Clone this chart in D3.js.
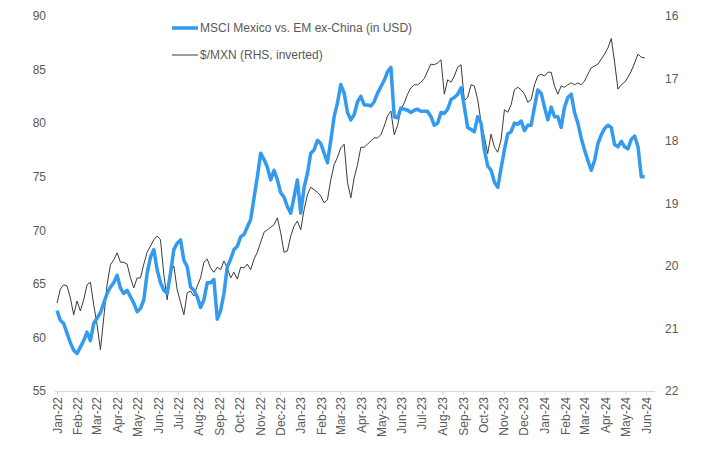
<!DOCTYPE html>
<html><head><meta charset="utf-8">
<script src="https://cdn.jsdelivr.net/npm/d3@7"></script>
<style>
html,body{margin:0;padding:0;background:#fff;}
svg{display:block;font-family:"Liberation Sans",Arial,sans-serif;}
</style></head>
<body><svg id="c" width="727" height="454"></svg>
<script>
const dates = ("2022-01-01 2022-01-06 2022-01-11 2022-01-16 2022-01-21 2022-01-26 2022-01-31 2022-02-05 2022-02-10 2022-02-15 2022-02-20 2022-02-25 2022-03-02 2022-03-07 2022-03-12 2022-03-17 2022-03-22 2022-03-27 2022-04-01 2022-04-06 2022-04-11 2022-04-16 2022-04-21 2022-04-26 2022-05-01 2022-05-06 2022-05-11 2022-05-16 2022-05-21 2022-05-26 2022-05-31 2022-06-05 2022-06-10 2022-06-15 2022-06-20 2022-06-25 2022-06-30 2022-07-05 2022-07-10 2022-07-15 2022-07-20 2022-07-25 2022-07-30 2022-08-04 2022-08-09 2022-08-14 2022-08-19 2022-08-24 2022-08-29 2022-09-03 2022-09-08 2022-09-13 2022-09-18 2022-09-23 2022-09-28 2022-10-03 2022-10-08 2022-10-13 2022-10-18 2022-10-23 2022-10-28 2022-11-02 2022-11-07 2022-11-12 2022-11-17 2022-11-22 2022-11-27 2022-12-02 2022-12-07 2022-12-12 2022-12-17 2022-12-22 2022-12-27 " +
"2023-01-01 2023-01-06 2023-01-11 2023-01-16 2023-01-21 2023-01-26 2023-01-31 2023-02-05 2023-02-10 2023-02-15 2023-02-20 2023-02-25 2023-03-02 2023-03-07 2023-03-12 2023-03-17 2023-03-22 2023-03-27 2023-04-01 2023-04-06 2023-04-11 2023-04-16 2023-04-21 2023-04-26 2023-05-01 2023-05-06 2023-05-11 2023-05-16 2023-05-21 2023-05-26 2023-05-31 2023-06-05 2023-06-10 2023-06-15 2023-06-20 2023-06-25 2023-06-30 2023-07-05 2023-07-10 2023-07-15 2023-07-20 2023-07-25 2023-07-30 2023-08-04 2023-08-09 2023-08-14 2023-08-19 2023-08-24 2023-08-29 2023-09-03 2023-09-08 2023-09-13 2023-09-18 2023-09-23 2023-09-28 2023-10-03 2023-10-08 2023-10-13 2023-10-18 2023-10-23 2023-10-28 2023-11-02 2023-11-07 2023-11-12 2023-11-17 2023-11-22 2023-11-27 2023-12-02 2023-12-07 2023-12-12 2023-12-17 2023-12-22 2023-12-27 " +
"2024-01-01 2024-01-06 2024-01-11 2024-01-16 2024-01-21 2024-01-26 2024-01-31 2024-02-05 2024-02-10 2024-02-15 2024-02-20 2024-02-25 2024-03-01 2024-03-06 2024-03-11 2024-03-16 2024-03-21 2024-03-26 2024-03-31 2024-04-05 2024-04-10 2024-04-15 2024-04-20 2024-04-25 2024-04-30 2024-05-05 2024-05-10 2024-05-15 2024-05-20 2024-05-25 2024-05-30").split(" ");

const msciMexicoVsEM = [62.5,61.6,61.3,60.4,59.5,58.8,58.5,59.1,59.7,60.5,
 59.7,61.3,61.8,62.3,63.2,64.1,64.7,65.1,65.8,64.6,
 64.1,64.4,63.8,63.2,62.4,62.7,63.5,66.0,67.5,68.2,
 66.3,65.1,64.4,64.1,66.0,68.2,68.8,69.1,67.2,66.6,
 64.7,64.4,63.8,62.8,63.5,65.1,65.1,65.4,61.7,62.5,
 64.1,66.6,67.3,68.2,68.5,69.4,69.6,70.3,71.0,73.0,
 75.0,77.2,76.6,75.9,74.7,75.6,74.7,73.5,73.1,72.2,
 71.6,73.1,74.7,71.6,74.0,75.3,77.2,77.5,78.4,78.1,
 77.2,76.3,78.4,80.6,81.9,83.6,82.8,81.0,80.3,80.8,
 82.0,82.5,81.7,81.7,81.6,82.0,82.8,83.4,84.0,84.8,
 85.2,80.6,80.5,81.4,81.3,81.2,81.0,81.2,81.3,81.1,
 81.1,81.1,80.6,79.8,80.0,81.0,80.9,81.3,82.2,82.4,
 82.7,83.3,81.5,79.6,79.4,79.2,80.6,80.0,77.5,76.0,
 75.6,74.5,74.0,75.8,77.5,79.0,79.2,80.0,79.9,80.2,
 79.3,79.8,79.8,81.5,83.1,82.8,81.5,80.3,81.5,80.6,
 80.6,79.6,81.5,82.4,82.7,81.0,80.0,78.6,77.5,76.5,
 75.6,76.5,78.1,78.9,79.5,79.8,79.6,78.0,77.8,78.3,
 77.8,77.6,78.5,78.8,77.8,75.0,75.0];

const usdMxn = [20.59,20.37,20.30,20.32,20.51,20.78,20.56,20.72,20.54,20.30,
 20.26,20.62,20.94,21.34,20.83,20.30,19.98,19.90,19.79,19.94,
 19.94,19.97,20.19,20.35,20.19,20.19,19.97,19.78,19.68,19.58,
 19.52,19.58,20.14,20.54,20.10,20.00,20.38,20.58,20.78,20.43,
 20.40,20.48,20.32,20.19,19.94,19.89,20.03,20.10,20.02,20.06,
 19.92,20.03,20.19,20.10,20.21,20.02,20.03,19.97,20.06,19.89,
 19.78,19.62,19.46,19.42,19.38,19.34,19.23,19.47,19.78,19.76,
 19.52,19.36,19.28,19.42,19.10,18.86,18.74,18.78,18.82,18.88,
 18.99,18.94,18.62,18.38,18.26,18.11,18.05,18.66,18.91,18.59,
 18.38,18.10,18.10,18.05,18.00,17.95,17.95,17.90,17.76,17.60,
 17.52,17.90,17.75,17.50,17.39,17.25,17.15,17.10,17.10,17.06,
 17.00,16.88,16.77,16.78,16.75,16.70,17.25,17.02,17.06,16.96,
 16.82,16.78,17.35,17.30,17.10,17.12,17.34,17.70,17.94,18.20,
 17.89,18.10,18.18,17.98,17.50,17.54,17.42,17.18,17.14,17.18,
 17.25,17.38,17.34,17.10,16.96,16.93,16.96,16.90,16.90,17.12,
 17.25,17.12,17.14,17.10,17.07,17.10,17.07,17.10,17.04,16.93,
 16.83,16.80,16.77,16.69,16.61,16.51,16.36,16.74,17.17,17.10,
 17.06,16.98,16.88,16.75,16.61,16.66,16.67];

const leftTicks = [55,60,65,70,75,80,85,90];
const rightTicks = [16,17,18,19,20,21,22];
const seriesNames = ["MSCI Mexico vs. EM ex-China (in USD)", "$/MXN (RHS, inverted)"];

const parse = d3.timeParse("%Y-%m-%d");
const svg = d3.select("#c");
const textColor = "#595959";

const x = d3.scaleTime().domain([parse("2022-01-01"), parse("2024-06-01")]).range([57, 646]);
const yL = d3.scaleLinear().domain([55, 90]).range([391, 16]);
const yR = d3.scaleLinear().domain([16, 22]).range([16, 391]);

// x axis
const monthTicks = d3.timeMonth.range(parse("2022-01-01"), parse("2024-06-02"));
const xAxis = d3.axisBottom(x).tickValues(monthTicks).tickFormat(d3.timeFormat("%b-%y")).tickSize(4).tickSizeOuter(0);
const gx = svg.append("g").attr("transform", "translate(0,391)").call(xAxis);
gx.select(".domain").remove();
gx.append("line").attr("x1", 55).attr("x2", 655).attr("y1", 0.5).attr("y2", 0.5).attr("stroke", "#d9d9d9");
gx.selectAll(".tick line").attr("stroke", "#d9d9d9");
gx.selectAll(".tick text")
  .attr("fill", textColor).attr("font-size", 12)
  .attr("transform", "rotate(-90)")
  .attr("text-anchor", "end")
  .attr("dy", "0.35em").attr("dx", 0)
  .attr("x", -6).attr("y", 0);

// left axis
const gl = svg.append("g").attr("transform", "translate(46,0)")
  .call(d3.axisLeft(yL).tickValues(leftTicks).tickFormat(d3.format("d")).tickSize(0).tickPadding(0));
gl.select(".domain").remove();
gl.selectAll("text").attr("fill", textColor).attr("font-size", 12).attr("font-family", "Liberation Sans, Arial, sans-serif");

// right axis
const gr = svg.append("g").attr("transform", "translate(665,0)")
  .call(d3.axisRight(yR).tickValues(rightTicks).tickFormat(d3.format("d")).tickSize(0).tickPadding(0));
gr.select(".domain").remove();
gr.selectAll("text").attr("fill", textColor).attr("font-size", 12).attr("font-family", "Liberation Sans, Arial, sans-serif");

const blueData = dates.map((d, i) => ({date: parse(d), v: msciMexicoVsEM[i]}));
const blackData = dates.map((d, i) => ({date: parse(d), v: usdMxn[i]}));

svg.append("path").datum(blackData)
  .attr("fill", "none").attr("stroke", "#3a3a3a").attr("stroke-width", 1)
  .attr("d", d3.line().x(d => x(d.date)).y(d => yR(d.v)));

svg.append("path").datum(blueData)
  .attr("fill", "none").attr("stroke", "#339af0").attr("stroke-width", 3.5).attr("stroke-linejoin", "round")
  .attr("d", d3.line().x(d => x(d.date)).y(d => yL(d.v)));

// legend
const lg = svg.append("g");
lg.append("line").attr("x1", 172).attr("x2", 198).attr("y1", 28).attr("y2", 28).attr("stroke", "#339af0").attr("stroke-width", 3.5);
lg.append("text").attr("x", 200).attr("y", 32).attr("font-size", 12).attr("fill", textColor).text(seriesNames[0]);
lg.append("line").attr("x1", 172).attr("x2", 198).attr("y1", 55).attr("y2", 55).attr("stroke", "#3a3a3a").attr("stroke-width", 1);
lg.append("text").attr("x", 200).attr("y", 59).attr("font-size", 12).attr("fill", textColor).text(seriesNames[1]);
</script></body></html>
